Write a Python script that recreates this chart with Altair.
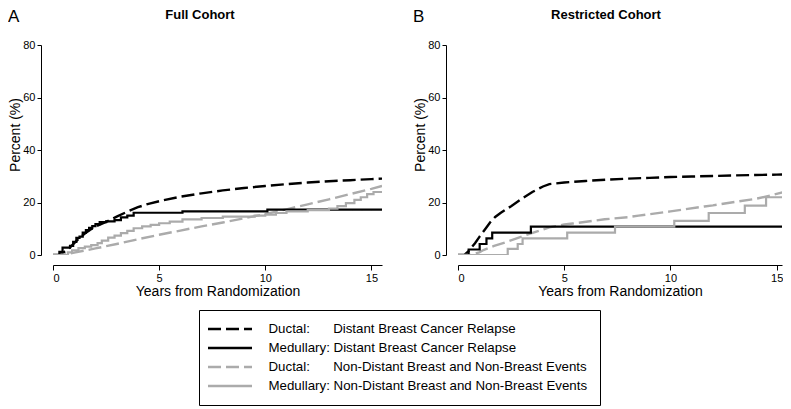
import altair as alt
import pandas as pd

FONT = "Liberation Sans"

SERIES = [
    "Ductal:\u00a0\u00a0\u00a0\u00a0\u00a0\u00a0\u200aDistant Breast Cancer Relapse",
    "Medullary: Distant Breast Cancer Relapse",
    "Ductal:\u00a0\u00a0\u00a0\u00a0\u00a0\u00a0\u200aNon-Distant Breast and Non-Breast Events",
    "Medullary: Non-Distant Breast and Non-Breast Events",
]
COLORS = ["#000000", "#000000", "#ababab", "#ababab"]
DASHES = [[13, 5], [1, 0], [13, 5], [1, 0]]

# ---- Panel A: Full Cohort ----
A_dd_x = [0, 0.25, 0.5, 0.75, 1, 1.25, 1.5, 1.75, 2, 2.5, 3, 3.5, 4, 4.5, 5, 6, 7, 8, 9, 10, 11, 12, 13, 14, 15, 15.5]
A_dd_y = [0, 0, 1, 2.5, 4.5, 6.5, 8.2, 9.6, 10.8, 12.6, 14.6, 16.5, 18.2, 19.5, 20.5, 22.2, 23.5, 24.6, 25.5, 26.3, 27.0, 27.6, 28.1, 28.5, 28.9, 29.1]

A_md_x = [0, 0.3, 0.45, 0.8, 0.95, 1.1, 1.25, 1.4, 1.55, 1.7, 1.85, 2.0, 2.2, 2.5, 2.9, 3.2, 3.5, 3.8, 6.1, 10.1, 15.5]
A_md_y = [0, 1.2, 2.8, 3.5, 5, 6.5, 7, 8.5, 9.5, 10.3, 11, 11.8, 12.5, 12.8, 13.3, 14.3, 15, 16.1, 16.6, 17.3, 17.3]

A_dn_x = [0, 0.5, 1, 1.5, 2, 3, 4, 5, 6, 7, 8, 9, 10, 11, 12, 13, 14, 15, 15.5]
A_dn_y = [0, 0.2, 0.9, 1.7, 2.5, 4.2, 6.0, 7.7, 9.3, 10.9, 12.4, 14.0, 15.6, 17.4, 19.3, 21.2, 23.2, 25.2, 26.3]

A_mn_x = [0, 0.7, 0.9, 1.2, 1.5, 1.8, 2.1, 2.3, 2.6, 2.9, 3.2, 3.5, 3.8, 4.2, 4.6, 5.0, 5.5, 6.1, 7.0, 8.0, 9.5, 10.0, 10.5, 11.0, 12.0, 13.0, 13.4, 13.8, 14.2, 14.5, 14.8, 15.1, 15.5]
A_mn_y = [0, 1, 1.8, 2.6, 3.2, 3.8, 4.5, 5.5, 6.6, 7.4, 8.3, 9.2, 10.2, 10.9, 11.5, 12.1, 12.7, 13.6, 14.1, 14.6, 15.0, 15.4, 16.0, 16.6, 17.1, 17.7, 18.6, 19.8, 21.0, 22.0, 23.2, 24.0, 24.0]

# ---- Panel B: Restricted Cohort ----
B_dd_x = [0, 0.3, 0.5, 0.8, 1, 1.25, 1.5, 1.75, 2, 2.5, 3, 3.5, 4, 4.3, 5, 6, 7, 8, 9, 10, 11, 12, 13, 14, 15, 15.5]
B_dd_y = [0, 0, 1.5, 4.5, 6.8, 9.5, 12.3, 14.5, 16.0, 18.6, 21.4, 24.0, 26.1, 27.0, 27.6, 28.2, 28.7, 29.1, 29.4, 29.7, 29.9, 30.1, 30.3, 30.5, 30.6, 30.7]

B_md_x = [0, 0.5, 1.02, 1.34, 1.61, 3.43, 15.5]
B_md_y = [0, 2.1, 4.2, 6.3, 8.5, 10.8, 10.8]

B_dn_x = [0, 0.6, 1, 1.2, 1.7, 2.3, 3.2, 4.3, 5, 5.4, 6.9, 8, 8.5, 10, 11.6, 12, 13.1, 14, 14.7, 15.5]
B_dn_y = [0, 0, 1.0, 1.9, 3.5, 5.0, 7.6, 10.5, 11.6, 12.0, 13.6, 14.4, 15.0, 16.6, 18.5, 18.9, 20.3, 21.4, 22.6, 24.4]

B_mn_x = [0, 2.34, 2.81, 3.04, 5.14, 7.39, 10.18, 11.8, 13.5, 14.5, 15.5]
B_mn_y = [0, 2.3, 4.2, 6.3, 8.5, 10.8, 13.0, 16.0, 18.8, 22.0, 22.0]


def frame(xs, ys, idx):
    return pd.DataFrame({"year": xs, "pct": ys, "series": SERIES[idx]})


color = alt.Color("series:N", scale=alt.Scale(domain=SERIES, range=COLORS),
                  legend=alt.Legend(
                      title=None, orient="none", legendX=146, legendY=265,
                      direction="vertical", strokeColor="black", padding=12,
                      symbolType="M-4,0H4", symbolSize=121, symbolStrokeWidth=2.6,
                      symbolOffset=12,
                      labelFontSize=13.3, labelFont=FONT, labelColor="black",
                      labelOffset=31.5, rowPadding=5, labelLimit=500,
                  ))
dash = alt.StrokeDash("series:N", scale=alt.Scale(domain=SERIES, range=DASHES))

y_enc = alt.Y("pct:Q", scale=alt.Scale(domain=[0, 80], nice=False),
              axis=alt.Axis(values=[0, 20, 40, 60, 80], title=None,
                            offset=12, tickSize=4, labelPadding=2))


def panel(dd, md, dn, mn, title, letter, title_x, xmax, width):
    x_enc = alt.X("year:Q", scale=alt.Scale(domain=[0, xmax], nice=False),
                  axis=alt.Axis(values=[0, 5, 10, 15], title="Years from Randomization",
                                offset=10, tickSize=5, labelPadding=2, titlePadding=1))
    dashed = pd.concat([dd, dn])
    base_dashed = alt.Chart(dashed).mark_line(strokeWidth=2.4, interpolate="linear", clip=True).encode(
        x=x_enc, y=y_enc, color=color, strokeDash=dash)
    solid_black = alt.Chart(md).mark_line(strokeWidth=2.2, interpolate="step-after", clip=True).encode(
        x=x_enc, y=y_enc, color=color, strokeDash=dash)
    solid_gray = alt.Chart(mn).mark_line(strokeWidth=2.2, interpolate="step-after", clip=True).encode(
        x=x_enc, y=y_enc, color=color, strokeDash=dash)
    lab = alt.Chart(pd.DataFrame({"t": [letter]})).mark_text(
        align="left", baseline="alphabetic", fontSize=17, font=FONT, color="black"
    ).encode(text="t:N", x=alt.value(-45), y=alt.value(-23))
    ttl = alt.Chart(pd.DataFrame({"t": [title]})).mark_text(
        align="center", baseline="alphabetic", fontSize=13, fontWeight="bold",
        font=FONT, color="black"
    ).encode(text="t:N", x=alt.value(title_x), y=alt.value(-26))
    ytl = alt.Chart(pd.DataFrame({"t": ["Percent (%)"]})).mark_text(
        align="center", baseline="middle", angle=270, fontSize=14,
        font=FONT, color="black"
    ).encode(text="t:N", x=alt.value(-37), y=alt.value(90))
    return alt.layer(base_dashed, solid_black, solid_gray, lab, ttl, ytl).properties(
        width=width, height=210)


pA = panel(frame(A_dd_x, A_dd_y, 0), frame(A_md_x, A_md_y, 1),
           frame(A_dn_x, A_dn_y, 2), frame(A_mn_x, A_mn_y, 3),
           "Full Cohort", "A", 147, 15.5, 329)
pB = panel(frame(B_dd_x, B_dd_y, 0), frame(B_md_x, B_md_y, 1),
           frame(B_dn_x, B_dn_y, 2), frame(B_mn_x, B_mn_y, 3),
           "Restricted Cohort", "B", 148, 15.25, 324)

chart = alt.hconcat(pA, pB, spacing=31).resolve_scale(
    color="shared", strokeDash="shared"
).properties(
    padding=0
).configure_view(stroke=None).configure_axis(
    domainColor="black", tickColor="black", labelColor="black", titleColor="black",
    labelFont=FONT, titleFont=FONT, labelFontSize=11, titleFontSize=14,
    titleFontWeight="normal", grid=False, domainWidth=1, tickWidth=1,
)

chart.save("out.html", embed_options={"renderer": "svg", "actions": False})
